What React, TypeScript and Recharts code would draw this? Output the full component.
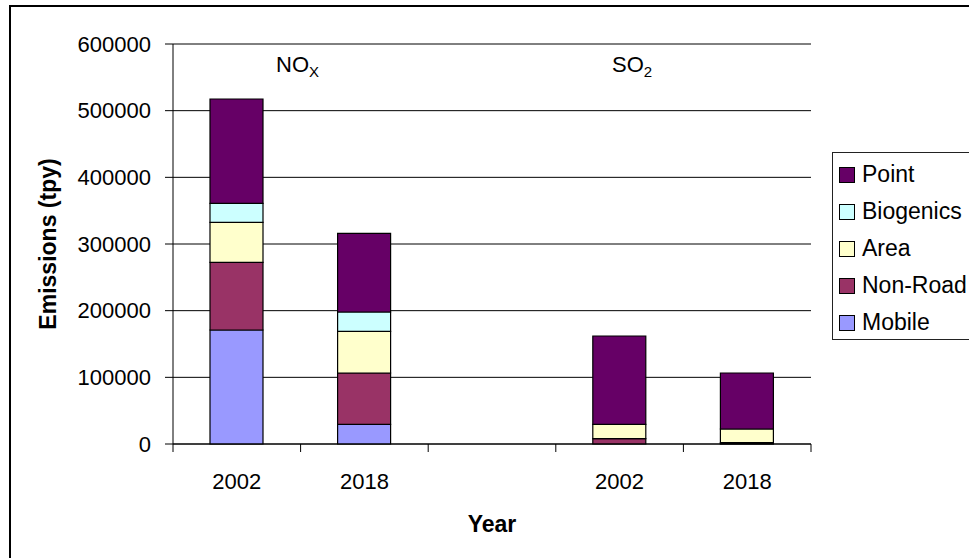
import React from 'react';
import { BarChart, Bar, XAxis, YAxis, CartesianGrid, Label } from 'recharts';

// Categories: two NOx years, an empty spacer slot, two SO2 years
const categories = ['NOx 2002', 'NOx 2018', 'spacer', 'SO2 2002', 'SO2 2018'];
const yearLabels = ['2002', '2018', '', '2002', '2018'];

// Emissions by source sector (tons per year)
const mobile = [171000, 29500, null, 0, 500];
const nonRoad = [101500, 77000, null, 8000, 1500];
const area = [60000, 62500, null, 21500, 20500];
const biogenics = [28500, 29000, null, 0, 0];
const point = [156500, 118000, null, 132500, 84000];

const yTicks = [0, 100000, 200000, 300000, 400000, 500000, 600000];

// Series, bottom of the stack first
const series = [
  { key: 'mobile', name: 'Mobile', values: mobile, color: '#9999FF' },
  { key: 'nonRoad', name: 'Non-Road', values: nonRoad, color: '#993366' },
  { key: 'area', name: 'Area', values: area, color: '#FFFFCC' },
  { key: 'biogenics', name: 'Biogenics', values: biogenics, color: '#CCFFFF' },
  { key: 'point', name: 'Point', values: point, color: '#660066' },
];

const data = categories.map((cat, i) => {
  const row: Record<string, any> = { cat, year: yearLabels[i] };
  series.forEach((s) => {
    row[s.key] = s.values[i];
  });
  return row;
});

const FONT = '"Liberation Sans", Arial, Helvetica, sans-serif';
const CHART_W = 969;
const CHART_H = 558;
const MARGIN = { top: 44, right: 158, bottom: 0, left: 0 };
const Y_AXIS_W = 173;
const X_AXIS_H = 114;
const PLOT_W = CHART_W - MARGIN.right - MARGIN.left - Y_AXIS_W;
const BAND = PLOT_W / categories.length;

// Year label centred in each slot, with tick marks on the slot boundaries
function YearTick(props: any) {
  const { x, y, payload, index } = props;
  const left = x - BAND / 2;
  const isLast = index === categories.length - 1;
  const label = yearLabels[categories.indexOf(payload.value)] ?? '';
  return (
    <g>
      <line x1={left} x2={left} y1={y} y2={y + 8} stroke="#000" strokeWidth={1} />
      {isLast && (
        <line x1={x + BAND / 2} x2={x + BAND / 2} y1={y} y2={y + 8} stroke="#000" strokeWidth={1} />
      )}
      <text x={x} y={y + 45} textAnchor="middle" fontSize={22} fontFamily={FONT} fill="#000">
        {label}
      </text>
    </g>
  );
}

function YTitle(props: any) {
  const { viewBox } = props;
  const cx = viewBox.x + 48;
  const cy = viewBox.y + viewBox.height / 2;
  return (
    <text
      x={cx}
      y={cy}
      transform={`rotate(-90, ${cx}, ${cy})`}
      textAnchor="middle"
      dominantBaseline="central"
      fontSize={23}
      fontWeight="bold"
      fontFamily={FONT}
      fill="#000"
    >
      Emissions (tpy)
    </text>
  );
}

function XTitle(props: any) {
  const { viewBox } = props;
  const cx = viewBox.x + viewBox.width / 2;
  return (
    <text
      x={cx}
      y={viewBox.y + 88}
      textAnchor="middle"
      fontSize={23}
      fontWeight="bold"
      fontFamily={FONT}
      fill="#000"
    >
      Year
    </text>
  );
}

function SectorLegend() {
  const items = [...series].reverse();
  return (
    <div
      style={{
        position: 'absolute',
        left: 832,
        top: 152,
        width: 160,
        height: 188,
        border: '1px solid #222',
        background: '#fff',
        boxSizing: 'border-box',
        paddingTop: 3,
        fontFamily: FONT,
      }}
    >
      {items.map((s) => (
        <div key={s.key} style={{ display: 'flex', alignItems: 'center', height: 37 }}>
          <span
            style={{
              display: 'inline-block',
              width: 14,
              height: 14,
              marginLeft: 6,
              marginRight: 7,
              background: s.color,
              border: '1px solid #000',
            }}
          />
          <span style={{ fontSize: 23, color: '#000', lineHeight: '23px' }}>{s.name}</span>
        </div>
      ))}
    </div>
  );
}

export default function App() {
  return (
    <div
      style={{
        position: 'fixed',
        left: 0,
        top: 0,
        width: CHART_W,
        height: CHART_H,
        overflow: 'hidden',
        background: '#fff',
      }}
    >
      <div
        style={{
          position: 'absolute',
          left: 9,
          top: 5,
          width: 1000,
          height: 700,
          border: '2px solid #000',
        }}
      />
      <div style={{ position: 'absolute', left: 0, top: 0 }}>
        <BarChart
          width={CHART_W}
          height={CHART_H}
          data={data}
          margin={MARGIN}
          barSize={53}
        >
          <CartesianGrid vertical={false} stroke="#000" strokeWidth={1} />
          <XAxis
            dataKey="cat"
            type="category"
            height={X_AXIS_H}
            interval={0}
            tickLine={false}
            tickSize={0}
            tickMargin={0}
            axisLine={{ stroke: '#000', strokeWidth: 1 }}
            tick={<YearTick />}
          >
            <Label content={<XTitle />} />
          </XAxis>
          <YAxis
            type="number"
            domain={[0, 600000]}
            ticks={yTicks}
            width={Y_AXIS_W}
            interval={0}
            tickSize={8}
            tickMargin={14}
            axisLine={{ stroke: '#000', strokeWidth: 1 }}
            tickLine={{ stroke: '#000', strokeWidth: 1 }}
            tick={{ fontSize: 22, fontFamily: FONT, fill: '#000' }}
          >
            <Label content={<YTitle />} />
          </YAxis>
          {series.map((s) => (
            <Bar
              key={s.key}
              dataKey={s.key}
              name={s.name}
              stackId="sectors"
              fill={s.color}
              stroke="#000"
              strokeWidth={1.2}
              isAnimationActive={false}
            />
          ))}
        </BarChart>
      </div>
      <svg
        width={CHART_W}
        height={CHART_H}
        style={{ position: 'absolute', left: 0, top: 0, pointerEvents: 'none' }}
      >
        <text x={276} y={72} fontSize={22} fontFamily={FONT} fill="#000">
          NO
          <tspan fontSize={15} dy={5}>X</tspan>
        </text>
        <text x={612} y={72} fontSize={22} fontFamily={FONT} fill="#000">
          SO
          <tspan fontSize={15} dy={5}>2</tspan>
        </text>
      </svg>
      <SectorLegend />
    </div>
  );
}
